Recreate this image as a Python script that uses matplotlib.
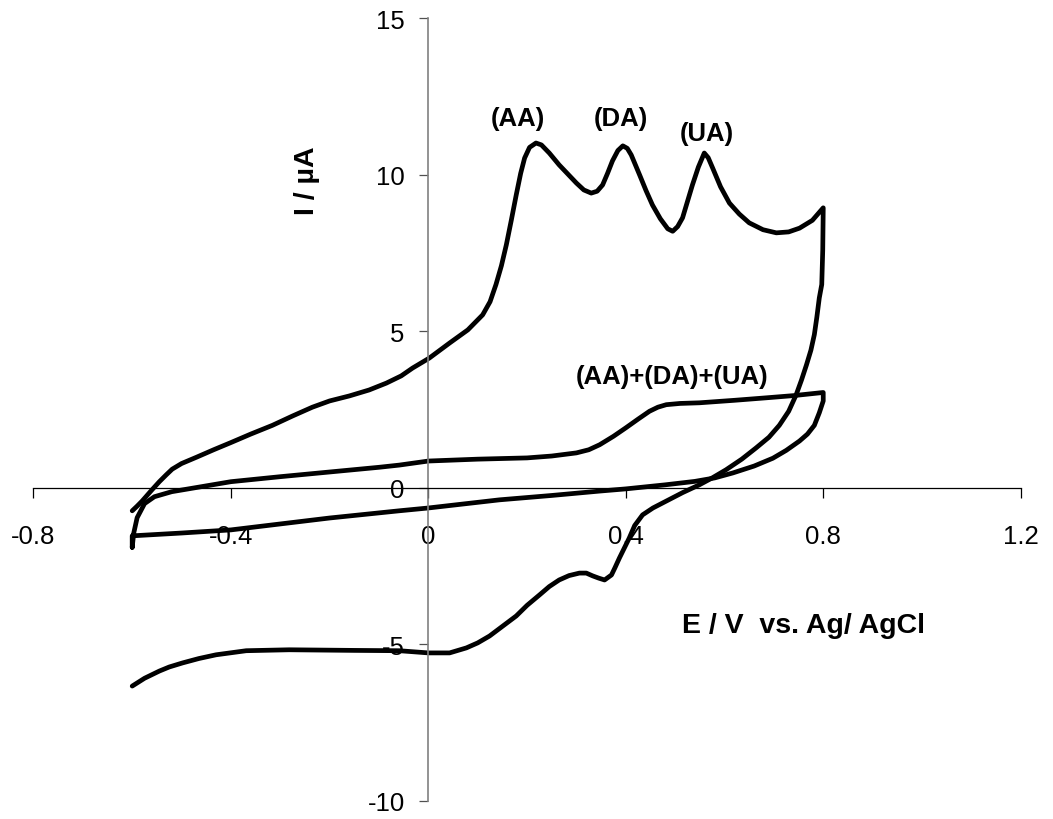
import matplotlib
matplotlib.use("Agg")
import matplotlib.pyplot as plt

plt.rcParams['font.family'] = ['Liberation Sans', 'DejaVu Sans']

# Cyclic voltammogram with three separated oxidation peaks (AA, DA, UA)
cv1_E = [-0.600, -0.590, -0.580, -0.570, -0.560, -0.545, -0.531, -0.519, -0.500, -0.470,
         -0.435, -0.400, -0.360, -0.316, -0.275, -0.235, -0.200, -0.160, -0.120, -0.085,
         -0.055, -0.032, 0.002, 0.043, 0.080, 0.110, 0.125, 0.137, 0.148, 0.158,
         0.168, 0.178, 0.187, 0.195, 0.205, 0.218, 0.229, 0.245, 0.265, 0.283,
         0.300, 0.315, 0.330, 0.342, 0.353, 0.363, 0.373, 0.384, 0.394, 0.403,
         0.411, 0.428, 0.441, 0.454, 0.470, 0.485, 0.495, 0.505, 0.515, 0.525,
         0.535, 0.547, 0.559, 0.567, 0.576, 0.592, 0.610, 0.630, 0.650, 0.678,
         0.705, 0.730, 0.752, 0.778, 0.800,
         0.799, 0.797, 0.792, 0.787, 0.782, 0.775, 0.766, 0.756, 0.745, 0.730,
         0.711, 0.690, 0.664, 0.635, 0.603, 0.575, 0.549, 0.515, 0.482, 0.455,
         0.434, 0.418, 0.407, 0.396, 0.387, 0.378, 0.371, 0.357, 0.345, 0.333,
         0.320, 0.306, 0.285, 0.265, 0.245, 0.225, 0.200, 0.178, 0.150, 0.124,
         0.100, 0.077, 0.043, 0.000, -0.059, -0.150, -0.282, -0.369, -0.430, -0.465,
         -0.498, -0.525, -0.545, -0.575, -0.600]
cv1_I = [-0.73, -0.58, -0.42, -0.24, -0.06, 0.20, 0.42, 0.60, 0.78, 0.98,
         1.22, 1.45, 1.72, 2.00, 2.30, 2.58, 2.78, 2.94, 3.13, 3.35,
         3.58, 3.83, 4.15, 4.63, 5.05, 5.53, 5.95, 6.50, 7.10, 7.77,
         8.55, 9.36, 10.05, 10.54, 10.88, 11.02, 10.96, 10.70, 10.32, 10.02,
         9.74, 9.52, 9.42, 9.48, 9.68, 10.05, 10.45, 10.78, 10.93, 10.85,
         10.64, 10.00, 9.50, 9.04, 8.60, 8.28, 8.20, 8.35, 8.63, 9.15,
         9.68, 10.25, 10.70, 10.55, 10.22, 9.62, 9.10, 8.75, 8.47, 8.25,
         8.15, 8.18, 8.30, 8.55, 8.95,
         7.60, 6.50, 6.07, 5.45, 4.90, 4.40, 3.93, 3.45, 2.97, 2.45,
         2.00, 1.62, 1.28, 0.92, 0.58, 0.32, 0.10, -0.15, -0.42, -0.64,
         -0.86, -1.20, -1.60, -1.95, -2.24, -2.55, -2.78, -2.94, -2.88, -2.81,
         -2.72, -2.72, -2.80, -2.94, -3.15, -3.42, -3.75, -4.09, -4.42, -4.73,
         -4.95, -5.11, -5.27, -5.27, -5.20, -5.19, -5.17, -5.20, -5.33, -5.45,
         -5.59, -5.72, -5.85, -6.08, -6.33]

# Voltammogram of the mixture (AA)+(DA)+(UA)
cv2_E = [-0.600, -0.597, -0.590, -0.575, -0.555, -0.520, -0.460, -0.400, -0.300, -0.200,
         -0.100, -0.059, 0.000, 0.100, 0.200, 0.250, 0.300, 0.325, 0.347, 0.375,
         0.400, 0.425, 0.448, 0.465, 0.482, 0.510, 0.549, 0.620, 0.685, 0.740,
         0.800,
         0.800, 0.792, 0.782, 0.768, 0.752, 0.725, 0.698, 0.660, 0.617, 0.580,
         0.540, 0.480, 0.400, 0.347, 0.250, 0.144, 0.000, -0.059, -0.200, -0.300,
         -0.400, -0.500, -0.600, -0.600]
cv2_I = [-1.90, -1.45, -0.95, -0.50, -0.28, -0.12, 0.04, 0.20, 0.36, 0.51,
         0.66, 0.73, 0.86, 0.92, 0.96, 1.02, 1.12, 1.22, 1.38, 1.65,
         1.92, 2.20, 2.45, 2.58, 2.66, 2.70, 2.72, 2.80, 2.88, 2.95,
         3.05,
         2.78, 2.40, 2.00, 1.72, 1.50, 1.20, 0.95, 0.70, 0.48, 0.32,
         0.21, 0.10, -0.03, -0.10, -0.24, -0.38, -0.64, -0.73, -0.96, -1.15,
         -1.34, -1.44, -1.53, -1.90]

x_ticks = [-0.8, -0.4, 0, 0.4, 0.8, 1.2]
x_tick_labels = ['-0.8', '-0.4', '0', '0.4', '0.8', '1.2']
y_ticks = [-10, -5, 0, 5, 10, 15]
y_tick_labels = ['-10', '-5', '0', '5', '10', '15']

fig = plt.figure(figsize=(10.53, 8.2), dpi=100)
ax = fig.add_axes([0.0318, 0.022, 0.9375, 0.9543])

ax.plot(cv1_E, cv1_I, color='black', lw=3.4, solid_capstyle='round', solid_joinstyle='round')
ax.plot(cv2_E, cv2_I, color='black', lw=3.4, solid_capstyle='round', solid_joinstyle='round')

ax.set_xlim(-0.8, 1.2)
ax.set_ylim(-10, 15)

# Axes crossing at the origin
ax.spines['left'].set_position(('data', 0))
ax.spines['bottom'].set_position(('data', 0))
ax.spines['top'].set_visible(False)
ax.spines['right'].set_visible(False)
ax.spines['left'].set_color('#808080')
ax.spines['left'].set_linewidth(1.2)
ax.spines['bottom'].set_color('black')
ax.spines['bottom'].set_linewidth(0.9)

ax.set_xticks(x_ticks)
ax.set_xticklabels(x_tick_labels)
ax.set_yticks(y_ticks)
ax.set_yticklabels(y_tick_labels)
ax.tick_params(axis='x', direction='out', length=7, width=0.9, color='black',
               pad=19, labelsize=18.5)
ax.tick_params(axis='y', direction='out', length=6.5, width=0.9, color='#505050',
               pad=10.5, labelsize=18.5)
ax.patch.set_alpha(0)

# Axis titles
ax.text(-0.245, 9.84, 'I / µA', rotation=90, ha='center', va='center',
        fontsize=20.5, fontweight='bold')
ax.text(0.760, -4.38, 'E / V  vs. Ag/ AgCl', ha='center', va='center',
        fontsize=20.5, fontweight='bold')

# Peak annotations
ax.text(0.182, 11.82, '(AA)', ha='center', va='center', fontsize=18.5, fontweight='bold')
ax.text(0.391, 11.82, '(DA)', ha='center', va='center', fontsize=18.5, fontweight='bold')
ax.text(0.565, 11.34, '(UA)', ha='center', va='center', fontsize=18.5, fontweight='bold')
ax.text(0.494, 3.58, '(AA)+(DA)+(UA)', ha='center', va='center', fontsize=18.5,
        fontweight='bold')

fig.savefig('out.png', dpi=100)
